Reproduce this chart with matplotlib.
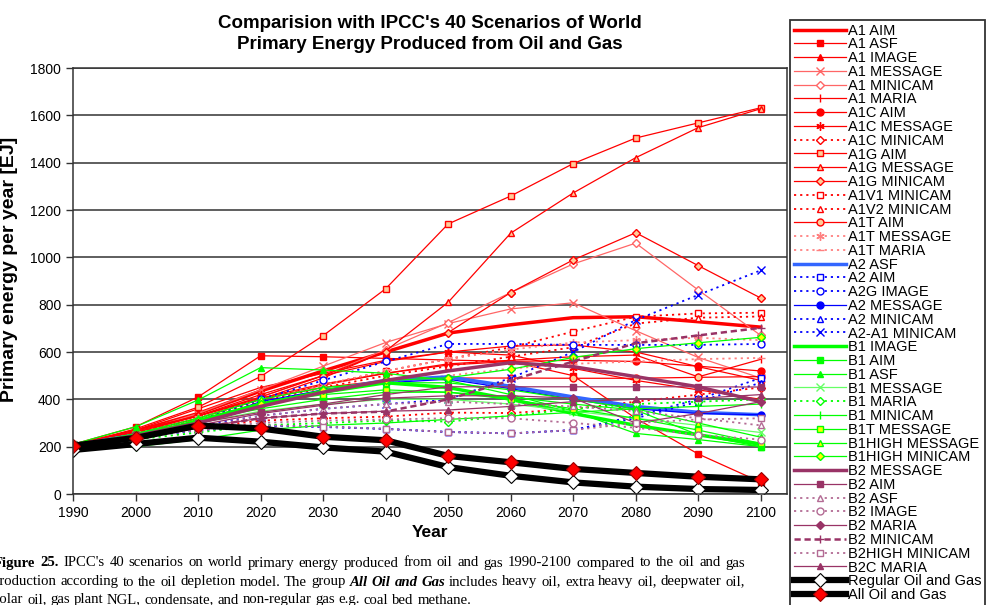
import matplotlib
matplotlib.use("Agg")
from matplotlib import pyplot as plt

plt.rcParams['font.family'] = ['Liberation Sans', 'DejaVu Sans']

years = [1990, 2000, 2010, 2020, 2030, 2040, 2050, 2060, 2070, 2080, 2090, 2100]

# EJ per year
a1_aim = [205, 265, 340, 435, 520, 600, 680, 715, 745, 749, 728, 705]
a1_asf = [210, 284, 410, 584, 580, 573, 566, 560, 500, 320, 169, 50]
a1_image = [205, 270, 360, 450, 510, 565, 600, 625, 630, 600, 538, 480]
a1_message = [205, 260, 340, 440, 540, 640, 720, 782, 808, 690, 577, 490]
a1_minicam = [205, 265, 330, 410, 500, 610, 724, 851, 972, 1060, 862, 670]
a1_maria = [205, 255, 320, 400, 460, 510, 550, 565, 580, 587, 495, 569]
a1c_aim = [205, 258, 330, 405, 465, 510, 545, 560, 565, 560, 540, 520]
a1c_message = [205, 260, 330, 420, 500, 560, 600, 587, 531, 480, 440, 400]
a1c_minicam = [205, 240, 280, 310, 320, 327, 344, 342, 360, 390, 420, 450]
a1g_aim = [205, 275, 367, 496, 669, 867, 1141, 1259, 1396, 1504, 1568, 1632]
a1g_message = [205, 270, 330, 400, 490, 604, 810, 1102, 1272, 1421, 1548, 1628]
a1g_minicam = [205, 265, 330, 410, 500, 600, 682, 851, 989, 1104, 965, 828]
a1v1_minicam = [205, 255, 320, 400, 460, 520, 570, 620, 686, 749, 763, 766]
a1v2_minicam = [205, 255, 318, 390, 450, 500, 540, 580, 620, 720, 745, 750]
a1t_aim = [205, 255, 320, 400, 450, 480, 490, 490, 489, 489, 493, 496]
a1t_message = [205, 255, 320, 400, 460, 520, 570, 610, 640, 650, 660, 650]
a1t_maria = [205, 250, 310, 380, 430, 470, 500, 530, 550, 560, 570, 575]
a2_asf = [205, 250, 300, 375, 435, 480, 495, 455, 410, 370, 345, 335]
a2_aim = [205, 240, 270, 290, 285, 275, 262, 256, 270, 330, 400, 490]
a2g_image = [205, 250, 310, 400, 480, 560, 634, 634, 630, 630, 630, 634]
a2_message = [205, 245, 300, 390, 440, 470, 485, 445, 400, 360, 340, 335]
a2_minicam = [205, 240, 268, 288, 283, 275, 262, 256, 270, 320, 390, 470]
a2a1_minicam = [205, 245, 290, 330, 360, 380, 400, 490, 600, 735, 841, 945]
b1_image = [205, 235, 310, 380, 430, 470, 450, 400, 340, 290, 250, 210]
b1_aim = [205, 250, 310, 360, 400, 430, 430, 410, 380, 355, 250, 200]
b1_asf = [210, 284, 397, 534, 524, 510, 480, 420, 350, 256, 230, 200]
b1_message = [205, 250, 300, 350, 380, 400, 400, 380, 350, 320, 290, 260]
b1_maria = [205, 230, 260, 290, 300, 310, 306, 330, 360, 380, 390, 400]
b1_minicam = [205, 200, 230, 270, 290, 300, 315, 330, 345, 360, 370, 380]
b1t_message = [205, 250, 310, 380, 420, 440, 430, 400, 360, 320, 270, 214]
b1high_message = [205, 255, 320, 400, 450, 470, 470, 440, 400, 360, 300, 240]
b1high_minicam = [205, 250, 310, 380, 440, 480, 491, 527, 577, 614, 639, 662]
b2_message = [205, 245, 300, 370, 430, 480, 520, 555, 538, 496, 453, 390]
b2_aim = [205, 250, 300, 345, 380, 420, 453, 453, 453, 453, 453, 452]
b2_asf = [205, 240, 280, 330, 360, 380, 390, 380, 370, 350, 320, 290]
b2_image = [205, 240, 275, 300, 310, 315, 320, 320, 300, 280, 250, 230]
b2_maria = [205, 245, 290, 340, 375, 405, 415, 415, 405, 300, 340, 390]
b2_minicam = [205, 240, 280, 320, 340, 348, 400, 480, 560, 637, 670, 702]
b2high_minicam = [205, 240, 270, 290, 285, 275, 262, 256, 270, 300, 315, 320]
b2c_maria = [205, 240, 280, 320, 340, 350, 355, 370, 390, 400, 404, 420]
regular_oil_gas = [186, 211, 238, 221, 197, 179, 114, 77, 49, 31, 21, 17]
all_oil_gas = [204, 237, 289, 277, 242, 227, 161, 134, 106, 89, 73, 62]

RED = '#FF0000'
LRED = '#FF6666'
PINK = '#FF8080'
ORANGE = '#FFCC99'
BLUE = '#0000FF'
MBLUE = '#3366FF'
GREEN = '#00FF00'
LGREEN = '#66FF66'
YELLOW = '#FFFF00'
PURPLE = '#993366'
LPURPLE = '#B36B94'
DOT = (0, (1.2, 2.2))
AST = (6, 2, 0)

# label, data, color, linestyle, linewidth, marker, marker face
series = [
    ('A1 AIM', a1_aim, RED, '-', 2.5, None, None),
    ('A1 ASF', a1_asf, RED, '-', 0.9, 's', RED),
    ('A1 IMAGE', a1_image, RED, '-', 0.9, '^', RED),
    ('A1 MESSAGE', a1_message, LRED, '-', 0.9, 'x', LRED),
    ('A1 MINICAM', a1_minicam, LRED, '-', 0.9, 'D', 'white'),
    ('A1 MARIA', a1_maria, RED, '-', 0.9, '|', RED),
    ('A1C AIM', a1c_aim, RED, '-', 0.9, 'o', RED),
    ('A1C MESSAGE', a1c_message, RED, '-', 0.9, AST, RED),
    ('A1C MINICAM', a1c_minicam, RED, DOT, 1.3, 'D', 'white'),
    ('A1G AIM', a1g_aim, RED, '-', 0.9, 's', ORANGE),
    ('A1G MESSAGE', a1g_message, RED, '-', 0.9, '^', ORANGE),
    ('A1G MINICAM', a1g_minicam, RED, '-', 0.9, 'D', ORANGE),
    ('A1V1 MINICAM', a1v1_minicam, RED, DOT, 1.3, 's', 'white'),
    ('A1V2 MINICAM', a1v2_minicam, RED, DOT, 1.3, '^', 'white'),
    ('A1T AIM', a1t_aim, RED, '-', 0.9, 'o', ORANGE),
    ('A1T MESSAGE', a1t_message, PINK, DOT, 1.3, AST, RED),
    ('A1T MARIA', a1t_maria, PINK, DOT, 1.3, '_', RED),
    ('A2 ASF', a2_asf, MBLUE, '-', 2.5, None, None),
    ('A2 AIM', a2_aim, BLUE, DOT, 1.3, 's', 'white'),
    ('A2G IMAGE', a2g_image, BLUE, DOT, 1.3, 'o', 'white'),
    ('A2 MESSAGE', a2_message, BLUE, '-', 0.9, 'o', BLUE),
    ('A2 MINICAM', a2_minicam, BLUE, DOT, 1.3, '^', 'white'),
    ('A2-A1 MINICAM', a2a1_minicam, BLUE, DOT, 1.3, 'x', BLUE),
    ('B1 IMAGE', b1_image, GREEN, '-', 2.5, None, None),
    ('B1 AIM', b1_aim, GREEN, '-', 0.9, 's', GREEN),
    ('B1 ASF', b1_asf, GREEN, '-', 0.9, '^', GREEN),
    ('B1 MESSAGE', b1_message, LGREEN, '-', 0.9, 'x', LGREEN),
    ('B1 MARIA', b1_maria, GREEN, DOT, 1.3, 'D', 'white'),
    ('B1 MINICAM', b1_minicam, GREEN, '-', 0.9, '|', GREEN),
    ('B1T MESSAGE', b1t_message, GREEN, '-', 0.9, 's', YELLOW),
    ('B1HIGH MESSAGE', b1high_message, GREEN, '-', 0.9, '^', YELLOW),
    ('B1HIGH MINICAM', b1high_minicam, GREEN, '-', 0.9, 'D', YELLOW),
    ('B2 MESSAGE', b2_message, PURPLE, '-', 2.5, None, None),
    ('B2 AIM', b2_aim, PURPLE, '-', 0.9, 's', PURPLE),
    ('B2 ASF', b2_asf, LPURPLE, DOT, 1.3, '^', 'white'),
    ('B2 IMAGE', b2_image, LPURPLE, DOT, 1.3, 'o', 'white'),
    ('B2 MARIA', b2_maria, PURPLE, '-', 0.9, 'D', PURPLE),
    ('B2 MINICAM', b2_minicam, PURPLE, (0, (2.5, 1.5)), 1.8, '+', PURPLE),
    ('B2HIGH MINICAM', b2high_minicam, LPURPLE, DOT, 1.3, 's', 'white'),
    ('B2C MARIA', b2c_maria, PURPLE, '-', 0.9, '^', PURPLE),
    ('Regular Oil and Gas', regular_oil_gas, 'black', '-', 4.5, 'D', 'white'),
    ('All Oil and Gas', all_oil_gas, 'black', '-', 4.5, 'D', RED),
]

fig = plt.figure(figsize=(9.95, 6.05), dpi=100)
ax = fig.add_axes([73 / 995, 1 - 494 / 605, 714 / 995, 426 / 605])

handles = []
for label, vals, col, ls, lw, mk, mfc in series:
    ms = 5
    mew = 1.0
    mec = col
    if mk == 'D':
        ms = 4.5
    if mk in ('x', '+', '|', '_') or mk == AST:
        ms = 6
    if label == 'Regular Oil and Gas':
        ms, mec, mew = 7, 'black', 0.8
    if label == 'All Oil and Gas':
        ms, mec, mew = 7, '#990000', 0.8
    h, = ax.plot(years, vals, color=col, linestyle=ls, linewidth=lw, marker=mk,
                 markersize=ms, markerfacecolor=mfc, markeredgecolor=mec,
                 markeredgewidth=mew, label=label)
    handles.append(h)

ax.set_xlim(1990, 2104.2)
ax.set_ylim(0, 1800)
ax.set_xticks(years)
ax.set_yticks(range(0, 1801, 200))
ax.tick_params(labelsize=10, direction='out', length=5, width=1, color='#333333')
ax.yaxis.grid(True, color='#333333', linewidth=1.1)
ax.set_axisbelow(True)
for s in ax.spines.values():
    s.set_color('#333333')
    s.set_linewidth(1.1)

ax.set_ylabel('Primary energy per year [EJ]', fontsize=14, fontweight='bold')
ax.yaxis.set_label_coords(-0.077, 0.528)
ax.set_xlabel('Year', fontsize=12.5, fontweight='bold', labelpad=4)
fig.text(430 / 995, 1 - 34 / 605,
         "Comparision with IPCC's 40 Scenarios of World\nPrimary Energy Produced from Oil and Gas",
         ha='center', va='center', fontsize=13.5, fontweight='bold', linespacing=1.35)

leg = fig.legend(handles=handles, loc='upper left', bbox_to_anchor=(790 / 995, 1 - 20 / 605),
                 bbox_transform=fig.transFigure, fontsize=10.5, labelspacing=-0.016,
                 handlelength=3.6, handletextpad=0.12, borderpad=0.25, borderaxespad=0,
                 fancybox=False, frameon=True)
leg.get_frame().set_edgecolor('black')
leg.get_frame().set_linewidth(1.3)

# caption under the chart, justified like the source text
serif = ['Liberation Serif', 'DejaVu Serif']
CAP_SIZE = 10.6
renderer = fig.canvas.get_renderer()


def caption_line(pieces, x0, y, x1=None):
    words = []
    for txt, style in pieces:
        for w in txt.split():
            words.append((w, style))
    arts = []
    widths = []
    for w, style in words:
        t = fig.text(0, 0, w, fontsize=CAP_SIZE, family=serif, va='center', ha='left', **style)
        arts.append(t)
        widths.append(t.get_window_extent(renderer).width)
    a = fig.text(0, 0, 'a b', fontsize=CAP_SIZE, family=serif)
    b = fig.text(0, 0, 'ab', fontsize=CAP_SIZE, family=serif)
    gap = a.get_window_extent(renderer).width - b.get_window_extent(renderer).width
    a.remove()
    b.remove()
    if x1 is not None:
        gap = (x1 - x0 - sum(widths)) / (len(words) - 1)
    x = x0
    for t, wd in zip(arts, widths):
        t.set_position((x / 995, 1 - y / 605))
        x += wd + gap


caption_line([('Figure 25.', {'fontweight': 'bold'}),
              ("IPCC's 40 scenarios on world primary energy produced from oil and gas 1990-2100 "
               "compared to the oil and gas", {})], -6, 563, 745)
caption_line([('production according to the oil depletion model. The group', {}),
              ('All Oil and Gas', {'fontweight': 'bold', 'fontstyle': 'italic'}),
              ('includes heavy oil, extra heavy oil, deepwater oil,', {})], -7, 582, 745)
caption_line([('polar oil, gas plant NGL, condensate, and non-regular gas e.g. coal bed methane.', {})],
             -7, 600)

fig.savefig('out.png', dpi=100)
